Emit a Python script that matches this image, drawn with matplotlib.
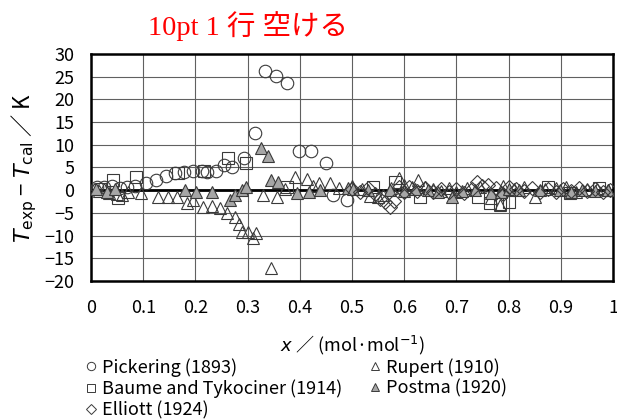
import matplotlib
matplotlib.use("Agg")
import matplotlib.pyplot as plt
from matplotlib.lines import Line2D

# -------------------------------
# Data
# -------------------------------
pickering_x = [0.011, 0.025, 0.040, 0.055, 0.068, 0.085, 0.105, 0.125, 0.144, 0.161,
               0.178, 0.196, 0.212, 0.223, 0.239, 0.255, 0.271, 0.294, 0.315, 0.333,
               0.354, 0.375, 0.398, 0.421, 0.450, 0.464, 0.490]
pickering_y = [0.8, 0.6, 0.9, 0.5, 0.8, 0.9, 1.5, 2.2, 3.1, 3.7,
               3.9, 4.2, 4.2, 3.9, 4.2, 5.5, 5.0, 7.2, 12.5, 26.3,
               25.2, 23.6, 8.6, 8.6, 6.1, -1.1, -2.2]

baume_x = [0.020, 0.043, 0.052, 0.086, 0.167, 0.216, 0.263, 0.297, 0.375, 0.541,
           0.582, 0.630, 0.742, 0.764, 0.784, 0.800, 0.876, 0.918, 0.973]
baume_y = [0.2, 2.2, -1.7, 3.0, 3.7, 4.2, 7.2, 6.1, 0.8, 0.8,
           1.9, -1.4, -1.5, -2.8, -3.0, -2.5, 0.8, -0.6, 0.5]

rupert_x = [0.005, 0.015, 0.025, 0.035, 0.050, 0.060, 0.070, 0.096, 0.129, 0.148,
            0.164, 0.183, 0.196, 0.214, 0.231, 0.247, 0.260, 0.276, 0.284, 0.289,
            0.301, 0.311, 0.317, 0.329, 0.345, 0.356, 0.372, 0.390, 0.413, 0.425,
            0.437, 0.458, 0.475, 0.500, 0.520, 0.535, 0.550, 0.560, 0.575, 0.591,
            0.600, 0.615, 0.626, 0.640, 0.655, 0.670, 0.685, 0.700, 0.720, 0.745,
            0.767, 0.784, 0.790, 0.810, 0.830, 0.850, 0.870, 0.890, 0.910, 0.930,
            0.950, 0.970, 0.990]
rupert_y = [0.3, -0.2, 0.2, -0.6, -0.8, -1.0, -0.5, -0.7, -1.4, -1.4,
            -1.4, -2.9, -2.2, -3.6, -3.4, -4.0, -5.1, -5.8, -7.4, -9.1,
            -9.1, -10.6, -9.5, -1.1, -17.2, -1.4, 0.3, 3.0, 2.4, 1.0,
            1.6, 1.5, 0.5, 1.0, 0.3, -1.2, -1.6, -1.0, 0.5, 2.6,
            1.2, 0.8, 2.2, 0.6, 0.3, -0.2, 0.5, -0.3, 0.4, 0.8,
            -1.8, -3.3, 1.0, 0.2, 0.6, -1.4, 0.2, 0.4, 0.7, -0.5,
            0.3, 0.2, 0.0]

postma_x = [0.010, 0.030, 0.046, 0.180, 0.202, 0.231, 0.266, 0.276, 0.289, 0.297,
            0.326, 0.340, 0.345, 0.359, 0.394, 0.417, 0.439, 0.493, 0.502, 0.530,
            0.572, 0.600, 0.620, 0.645, 0.665, 0.691, 0.710, 0.736, 0.767, 0.785,
            0.800, 0.820, 0.860, 0.898, 0.920, 0.940, 0.965, 0.990]
postma_y = [0.2, -0.3, 0.3, 0.0, -0.3, -0.3, -2.2, -1.1, 0.0, 0.8,
            9.4, 7.5, 2.2, 1.9, -0.7, -0.5, 0.0, 0.4, 0.2, 0.0,
            0.0, -0.2, 0.2, 0.1, -0.3, -1.4, -0.2, 0.0, -0.6, -0.3,
            0.2, 0.0, 0.0, 0.0, -0.3, 0.0, -0.2, 0.0]

elliott_x = [0.500, 0.515, 0.530, 0.545, 0.554, 0.563, 0.573, 0.580, 0.590, 0.600,
             0.610, 0.625, 0.640, 0.655, 0.670, 0.685, 0.700, 0.715, 0.730, 0.739,
             0.750, 0.760, 0.775, 0.790, 0.800, 0.815, 0.830, 0.845, 0.860, 0.875,
             0.890, 0.905, 0.920, 0.935, 0.950, 0.965, 0.980, 0.995]
elliott_y = [0.3, -0.5, 0.5, -0.8, -2.0, -2.6, -3.6, -2.4, 0.6, -0.4,
             0.8, -0.2, 0.4, -0.5, 0.2, -0.4, 0.2, -0.6, 0.3, 1.9,
             0.9, 1.2, 0.4, -0.8, 0.6, 0.3, -0.2, 0.5, -0.4, 0.3,
             -0.3, 0.2, -0.2, 0.4, -0.1, 0.2, -0.3, 0.1]

x_ticks = [0, 0.1, 0.2, 0.3, 0.4, 0.5, 0.6, 0.7, 0.8, 0.9, 1]
x_tick_labels = ["0", "0.1", "0.2", "0.3", "0.4", "0.5", "0.6", "0.7", "0.8", "0.9", "1"]
y_ticks = [30, 25, 20, 15, 10, 5, 0, -5, -10, -15, -20]

# -------------------------------
# Plot
# -------------------------------
plt.rcParams['font.family'] = ['Noto Sans CJK JP', 'DejaVu Sans']
plt.rcParams['mathtext.fontset'] = 'dejavusans'
plt.rcParams['axes.unicode_minus'] = True

edge = "#3a3a3a"
fig = plt.figure(figsize=(6.17, 4.19), dpi=100)
ax = fig.add_axes([0.1475, 0.3294, 0.846, 0.5417])

ax.axhline(0, color="black", lw=2.0, zorder=2)

ms = 9
common = dict(ls="none", markersize=ms, markeredgewidth=0.8, markeredgecolor=edge, zorder=3)
ax.plot(pickering_x, pickering_y, marker="o", markerfacecolor="none", **common)
ax.plot(baume_x, baume_y, marker="s", markerfacecolor="none", **common)
ax.plot(rupert_x, rupert_y, marker="^", markerfacecolor="none", **common)
ax.plot(postma_x, postma_y, marker="^", markerfacecolor="#a6a6a6", **common)
ax.plot(elliott_x, elliott_y, marker="D", markerfacecolor="none",
        **{**common, "markersize": 7})

ax.set_xlim(0, 1)
ax.set_ylim(-20, 30)
ax.set_xticks(x_ticks)
ax.set_xticklabels(x_tick_labels)
ax.set_yticks(y_ticks)
ax.set_yticklabels([str(v).replace("-", "\u2212") for v in y_ticks])
ax.tick_params(axis="both", length=0, labelsize=13)
ax.tick_params(axis="x", pad=13)
ax.tick_params(axis="y", pad=12)
ax.grid(True, color="#606060", lw=0.8, zorder=1)
ax.set_axisbelow(True)
for sp in ax.spines.values():
    sp.set_linewidth(1.8)
    sp.set_color("black")

ax.set_xlabel(r"$x$ ／ (mol·mol$^{-1}$)", fontsize=13, labelpad=12)
ax.set_ylabel(r"$T_{\mathrm{exp}}$ − $T_{\mathrm{cal}}$ ／ K", fontsize=16, labelpad=4)

# red note on top
fig.text(148 / 617, 1 - 26 / 419, "10pt 1 行 空ける", color="red", fontsize=20.5,
         family=["Liberation Serif", "Noto Sans CJK JP"], ha="left", va="center")

# legend
handles = [
    Line2D([], [], ls="none", marker="o", markersize=6, markerfacecolor="none", markeredgecolor=edge, markeredgewidth=0.7),
    Line2D([], [], ls="none", marker="s", markersize=6, markerfacecolor="none", markeredgecolor=edge, markeredgewidth=0.7),
    Line2D([], [], ls="none", marker="D", markersize=5, markerfacecolor="none", markeredgecolor=edge, markeredgewidth=0.7),
    Line2D([], [], ls="none", marker="^", markersize=6, markerfacecolor="none", markeredgecolor=edge, markeredgewidth=0.7),
    Line2D([], [], ls="none", marker="^", markersize=6, markerfacecolor="#a6a6a6", markeredgecolor=edge, markeredgewidth=0.7),
]
labels = ["Pickering (1893)", "Baume and Tykociner (1914)", "Elliott (1924)",
          "Rupert (1910)", "Postma (1920)"]
fig.legend(handles, labels, loc="upper left", bbox_to_anchor=(86 / 617, 1 - 358 / 419),
           ncol=2, frameon=False, fontsize=13, handlelength=0.6, handletextpad=0.3,
           columnspacing=1.5, labelspacing=0.15, borderpad=0, borderaxespad=0)

fig.savefig("out.png", dpi=100)
